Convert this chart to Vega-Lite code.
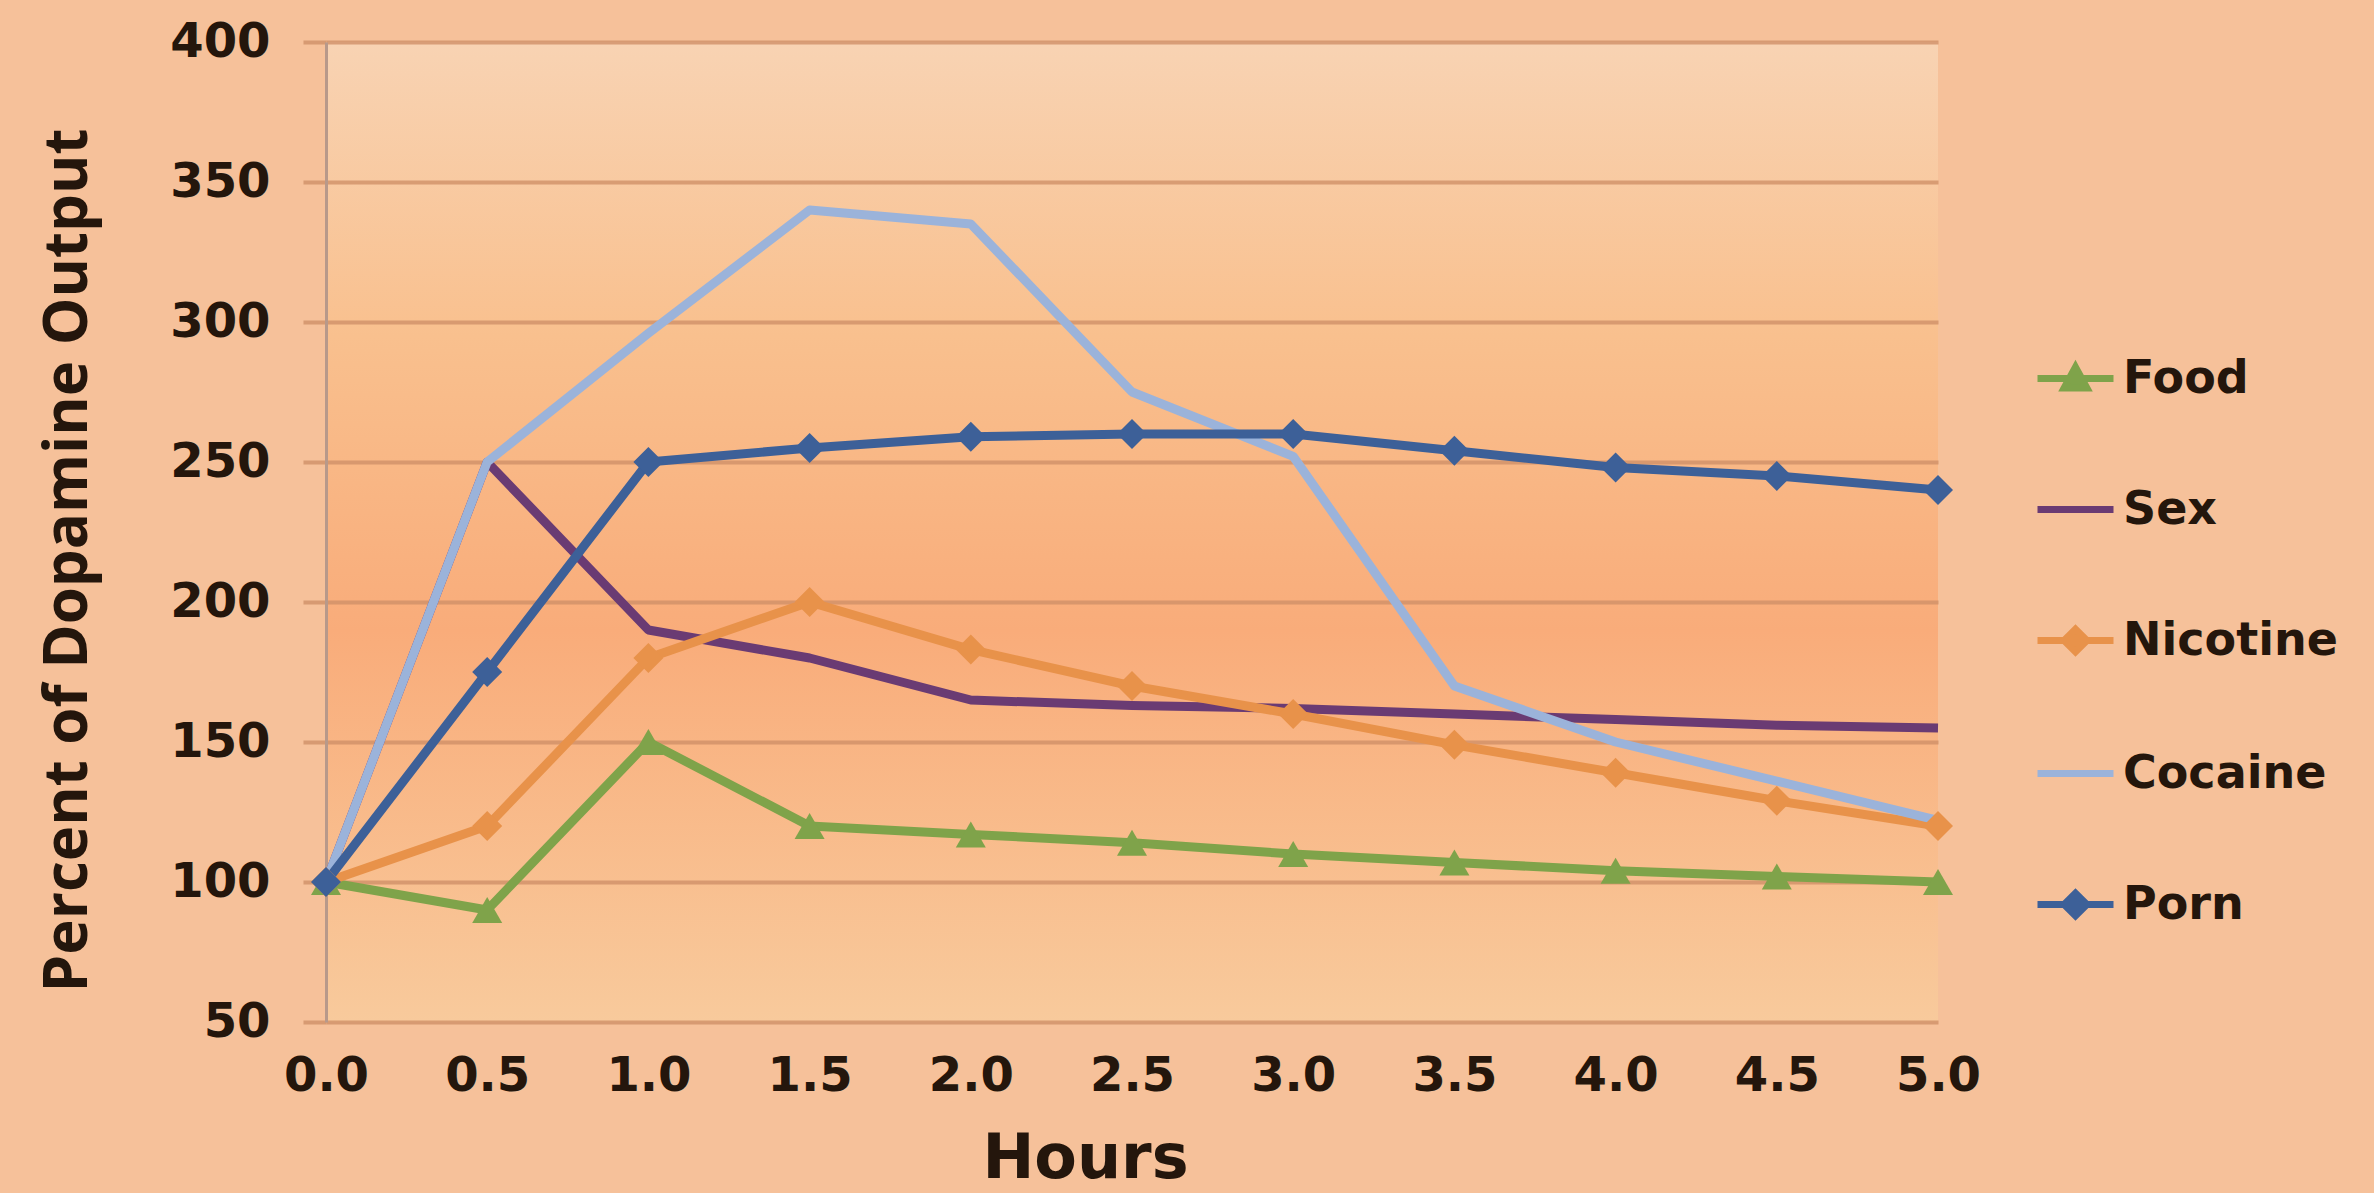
{
  "$schema": "https://vega.github.io/schema/vega-lite/v6.json",
  "width": 1612,
  "height": 980,
  "autosize": {"type": "none"},
  "padding": {"left": 326, "top": 42, "right": 436, "bottom": 171},
  "background": "#F6C19A",
  "config": {
    "view": {
      "stroke": null,
      "fill": {"gradient": "linear", "x1": 0, "y1": 0, "x2": 0, "y2": 1,
        "stops": [
          {"offset": 0, "color": "#F8D3B3"},
          {"offset": 0.3, "color": "#F9C08E"},
          {"offset": 0.6, "color": "#F9AC7A"},
          {"offset": 1, "color": "#F8CA9C"}
        ]}
    }
  },
  "data": {
    "values": [
      {"h": 0, "v": 100, "s": "Food"},
      {"h": 0.5, "v": 90, "s": "Food"},
      {"h": 1, "v": 150, "s": "Food"},
      {"h": 1.5, "v": 120, "s": "Food"},
      {"h": 2, "v": 117, "s": "Food"},
      {"h": 2.5, "v": 114, "s": "Food"},
      {"h": 3, "v": 110, "s": "Food"},
      {"h": 3.5, "v": 107, "s": "Food"},
      {"h": 4, "v": 104, "s": "Food"},
      {"h": 4.5, "v": 102, "s": "Food"},
      {"h": 5, "v": 100, "s": "Food"},
      {"h": 0, "v": 100, "s": "Sex"},
      {"h": 0.5, "v": 250, "s": "Sex"},
      {"h": 1, "v": 190, "s": "Sex"},
      {"h": 1.5, "v": 180, "s": "Sex"},
      {"h": 2, "v": 165, "s": "Sex"},
      {"h": 2.5, "v": 163, "s": "Sex"},
      {"h": 3, "v": 162, "s": "Sex"},
      {"h": 3.5, "v": 160, "s": "Sex"},
      {"h": 4, "v": 158, "s": "Sex"},
      {"h": 4.5, "v": 156, "s": "Sex"},
      {"h": 5, "v": 155, "s": "Sex"},
      {"h": 0, "v": 100, "s": "Nicotine"},
      {"h": 0.5, "v": 120, "s": "Nicotine"},
      {"h": 1, "v": 180, "s": "Nicotine"},
      {"h": 1.5, "v": 200, "s": "Nicotine"},
      {"h": 2, "v": 183, "s": "Nicotine"},
      {"h": 2.5, "v": 170, "s": "Nicotine"},
      {"h": 3, "v": 160, "s": "Nicotine"},
      {"h": 3.5, "v": 149, "s": "Nicotine"},
      {"h": 4, "v": 139, "s": "Nicotine"},
      {"h": 4.5, "v": 129, "s": "Nicotine"},
      {"h": 5, "v": 120, "s": "Nicotine"},
      {"h": 0, "v": 100, "s": "Cocaine"},
      {"h": 0.5, "v": 250, "s": "Cocaine"},
      {"h": 1, "v": 296, "s": "Cocaine"},
      {"h": 1.5, "v": 340, "s": "Cocaine"},
      {"h": 2, "v": 335, "s": "Cocaine"},
      {"h": 2.5, "v": 275, "s": "Cocaine"},
      {"h": 3, "v": 252, "s": "Cocaine"},
      {"h": 3.5, "v": 170, "s": "Cocaine"},
      {"h": 4, "v": 150, "s": "Cocaine"},
      {"h": 4.5, "v": 136, "s": "Cocaine"},
      {"h": 5, "v": 122, "s": "Cocaine"},
      {"h": 0, "v": 100, "s": "Porn"},
      {"h": 0.5, "v": 175, "s": "Porn"},
      {"h": 1, "v": 250, "s": "Porn"},
      {"h": 1.5, "v": 255, "s": "Porn"},
      {"h": 2, "v": 259, "s": "Porn"},
      {"h": 2.5, "v": 260, "s": "Porn"},
      {"h": 3, "v": 260, "s": "Porn"},
      {"h": 3.5, "v": 254, "s": "Porn"},
      {"h": 4, "v": 248, "s": "Porn"},
      {"h": 4.5, "v": 245, "s": "Porn"},
      {"h": 5, "v": 240, "s": "Porn"}
    ]
  },
  "encoding": {
    "x": {
      "field": "h", "type": "quantitative",
      "scale": {"domain": [0, 5], "nice": false, "zero": false},
      "axis": {
        "title": "Hours",
        "values": [0, 0.5, 1, 1.5, 2, 2.5, 3, 3.5, 4, 4.5, 5],
        "format": ".1f",
        "grid": false, "domain": false, "ticks": false,
        "labelFont": "DejaVu Sans", "labelFontWeight": "bold", "labelFontSize": 48,
        "labelColor": "#24160C", "labelPadding": 30, "labelBaseline": "top",
        "labelFlush": false, "labelOverlap": false,
        "titleFont": "DejaVu Sans", "titleFontWeight": "bold", "titleFontSize": 62,
        "titleColor": "#24160C", "titleX": 759, "titleY": 136,
        "titleAlign": "center", "titleBaseline": "middle"
      }
    },
    "y": {
      "field": "v", "type": "quantitative",
      "scale": {"domain": [50, 400], "nice": false, "zero": false},
      "axis": {
        "title": "Percent of Dopamine Output",
        "values": [50, 100, 150, 200, 250, 300, 350, 400],
        "grid": true, "gridColor": "#CF9068", "gridWidth": 4, "gridOpacity": 0.8,
        "domain": true, "domainColor": "#B8998A", "domainWidth": 3,
        "ticks": true, "tickColor": "#CF9068", "tickWidth": 4, "tickSize": 23, "tickOpacity": 0.8,
        "labelFont": "DejaVu Sans", "labelFontWeight": "bold", "labelFontSize": 48,
        "labelColor": "#24160C", "labelPadding": 33,
        "labelFlush": false, "labelOverlap": false,
        "titleFont": "Open Sans", "titleFontWeight": "bold", "titleFontSize": 60,
        "titleColor": "#24160C", "titleX": -258, "titleY": 518,
        "titleAngle": 270, "titleAlign": "center", "titleBaseline": "middle"
      }
    },
    "color": {
      "field": "s", "type": "nominal",
      "scale": {
        "domain": ["Food", "Sex", "Nicotine", "Cocaine", "Porn"],
        "range": ["#7FA34A", "#6A3B73", "#E8924A", "#9BB3DA", "#3D6098"]
      },
      "legend": {
        "title": null,
        "orient": "none",
        "legendX": 1708,
        "legendY": 295,
        "symbolSize": 5776,
        "symbolStrokeWidth": 6,
        "rowPadding": 66,
        "labelOffset": 6,
        "labelLimit": 500,
        "labelFont": "DejaVu Sans", "labelFontWeight": "bold", "labelFontSize": 46,
        "labelColor": "#24160C",
        "encode": {
          "symbols": {
            "update": {
              "shape": {"signal": "datum.value === 'Food' ? 'M-1,0H1M0,-0.3L0.3,0.25L-0.3,0.25Z' : (datum.value === 'Nicotine' || datum.value === 'Porn') ? 'M-1,0H1M0,-0.3L0.3,0L0,0.3L-0.3,0Z' : 'M-1,0H1'"},
              "fill": {"scale": "color", "field": "value"},
              "stroke": {"scale": "color", "field": "value"},
              "strokeWidth": {"value": 7},
              "opacity": {"value": 1},
              "fillOpacity": {"value": 1}
            }
          }
        }
      }
    }
  },
  "layer": [
    {
      "mark": {"type": "line", "strokeWidth": 9, "strokeJoin": "round"}
    },
    {
      "transform": [{"filter": "datum.s === 'Food' || datum.s === 'Nicotine' || datum.s === 'Porn'"}],
      "mark": {"type": "point", "filled": true, "opacity": 1, "size": 900},
      "encoding": {
        "shape": {
          "field": "s", "type": "nominal",
          "scale": {"domain": ["Food", "Nicotine", "Porn"], "range": ["triangle-up", "diamond", "diamond"]},
          "legend": null
        }
      }
    }
  ]
}
